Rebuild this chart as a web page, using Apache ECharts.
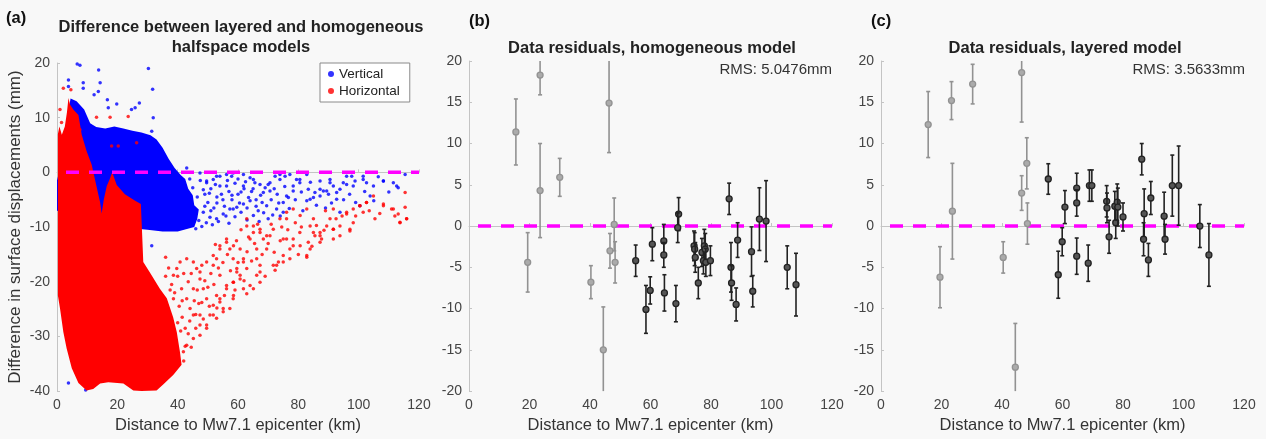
<!DOCTYPE html>
<html>
<head>
<meta charset="utf-8">
<title>Layered vs homogeneous halfspace residuals</title>
<style>
  html, body { margin: 0; padding: 0; background: #f8f8f8; }
  #main { width: 1266px; height: 439px; }
</style>
</head>
<body>
<div id="main"></div>
<script src="https://cdn.jsdelivr.net/npm/echarts@6/dist/echarts.min.js"></script>
<script>
// ---- panel (a): dense cores of the two point clouds, read as outlines [km, mm]
var vertBand = [[0, -1.5], [1.5, 2], [3, 9], [4.5, 13.5], [6.5, 13], [9, 11.5], [11, 9], [13, 8.3], [16, 8],
  [19, 8.4], [22, 8], [25, 7.6], [28, 7.3], [31, 6.8], [33, 6], [35, 4.5], [37, 2.5], [39, 0.8], [41, -0.5],
  [42.5, -1.2], [43.5, -3], [45, -4.2], [45.5, -6], [47, -6.8], [46.5, -8.5], [45.5, -10], [40, -10.8],
  [35, -10.8], [30, -10.5], [25, -10.2], [20, -10], [16, -9.5], [14.5, -8.5], [10, -8], [5, -7.5], [0, -7]];

var horizBand = [[0.3, 7], [0.8, 8.4], [1.6, 6.9], [2.6, 8.4], [3.3, 11], [3.8, 13.6], [4.3, 12.4], [5.4, 11.5],
  [7.1, 10.5], [8.2, 6.9], [9.8, 3.9], [11.5, 1.4], [13.2, -2.8], [14.3, -5.5], [14.8, -7.5], [15.5, -5],
  [16.5, -2.5], [17.5, -1.2], [18.3, 0], [19.8, -2.3], [22.5, -4], [25.9, -5.2], [27.8, -5.8], [28.2, -11],
  [28.6, -16.4], [31, -18.5], [34.1, -21.3], [36.4, -23], [38.5, -26.5], [39.7, -29.2], [40.8, -33],
  [41.3, -35.2], [38.6, -37], [35.2, -38.8], [33, -39.9], [28, -40], [25.3, -39.9], [22, -38.6], [17, -38.4],
  [14.3, -38.6], [12, -39.6], [9.8, -39.9], [7.1, -38.5], [4.9, -35.8], [3.2, -32.2], [2.1, -29.2], [1, -24.9],
  [0.3, -22.5]];

// scattered points outside the cores
var vertPts = [[6.7, 19.8], [7.6, 19.6], [3.8, 16.9], [13.8, 18.7], [30.3, 19.0], [31.7, 15.2], [14.3, 16.4],
  [13.7, 14.8], [12.3, 14.2], [8.7, 16.4], [8.7, 15.4], [16.7, 13.3], [17.0, 11.8], [19.8, 12.5], [24.7, 11.5],
  [27.3, 12.7], [25.9, 11.8], [31.9, 10.0], [6.7, 12.1], [31.4, 7.5], [3.8, 15.7],
  [31.4, -13.4], [23.5, -18.6], [3.8, -38.5], [4.6, -31], [9.5, -39.8],
  [43.0, 0.8], [47.4, -0.1], [49.6, -1.6], [52.9, -0.7], [56.2, -2.5], [58.4, -0.1], [61.8, -2.5], [65.1, -1.3],
  [68.4, -3.7], [70.6, -1.9], [73.9, -0.4], [76.1, -4.3], [78.3, -2.5], [80.5, -1.3], [83.9, -4.9], [87.2, -3.1],
  [90.5, -1.9], [92.7, -4.9], [96.0, -0.7], [98.2, -2.5], [101.5, -1.3], [103.8, -4.3], [108.2, -1.6],
  [112.6, -2.5], [115.4, -0.4], [93.8, -7.3], [100.4, -6.1], [75.0, -7.3], [58.4, -6.7], [65.1, -7.9],
  [49.6, -1.9], [51.8, -1.3], [54.0, -0.7], [56.2, -0.4], [57.9, -0.7], [61.8, -0.4], [64.0, -1.0], [65.6, -1.9],
  [67.3, -2.2], [69.0, -2.8], [70.6, -3.4], [72.3, -0.7], [73.9, -1.3], [75.6, -0.7], [77.2, -0.4], [79.4, -1.3],
  [80.5, -1.9], [82.8, -0.4], [83.3, -3.1], [85.5, -3.7], [87.2, -1.6], [88.3, -3.4], [90.0, -4.0], [90.5, -1.3],
  [91.6, -2.5], [92.7, -3.7], [93.8, -3.1], [94.9, -1.9], [96.0, -2.2], [97.7, -0.7], [98.8, -1.6], [101.5, -0.7],
  [102.6, -1.9], [104.9, -2.5], [108.2, -1.6], [111.5, -1.9], [113.1, -2.8],
  [48.5, -7.3], [50.7, -8.2], [52.9, -8.5], [55.1, -7.6], [57.3, -6.7], [59.6, -6.4], [61.8, -5.8], [64.0, -5.2],
  [66.7, -7.0], [69.5, -6.1], [72.8, -6.7], [75.0, -5.5], [76.7, -4.6], [78.3, -3.4], [82.8, -5.2], [85.0, -4.6],
  [87.2, -4.3], [89.4, -3.4], [49, -4], [50, -5.5], [51, -3], [52, -6.5], [53, -4.5], [54, -2.5], [55, -5],
  [56, -8], [57, -3.5], [58, -5], [59, -2], [60, -4], [61, -7.3], [62, -3], [63, -6.5], [64.5, -3.5], [66, -5],
  [68, -5.5], [71, -5], [73, -4], [74, -8], [70, -8.5], [67, -9],
  [44.5, -9.5], [45.5, -7.2], [46, -10.3], [47, -8.8], [48, -9.9], [49, -6.2], [49.5, -9.2], [50.5, -3.8],
  [51, -7], [51.5, -9.6], [52.5, -2.2], [53, -5.6], [53.5, -9], [54.5, -4], [55.5, -6.2], [56.5, -1.5],
  [57, -9.3], [58, -4.2], [59, -8.1], [60, -1.2], [60.5, -5.6], [61, -3.6], [62.5, -1.7], [63, -8.7],
  [63.5, -4.6], [65, -3], [66, -6.2], [67.5, -4.2], [68.5, -7.4], [70, -2.2], [71.5, -7.8], [72, -3],
  [73.5, -5.6], [75.5, -2.6], [77, -6.6], [79, -5], [81, -3.6], [81.5, -7], [84, -1.8], [86, -6], [89, -6.5],
  [91, -5.6], [95, -5], [97, -4], [99, -5.5], [102, -3.5], [105, -5.2], [106.5, -0.8], [110, -3.6],
  [42, -9.8], [43.5, -5], [41.5, -8.2], [44, -1.2], [45, -2.8], [46.5, -4.5], [47.5, -1.5], [48.5, -3.2]];

var horizPts = [[2.1, 15.4], [4.6, 15.1], [1.5, 9.1], [13.1, 10.1], [17.6, 10.1], [23.6, 10.2], [18.1, 4.8],
  [20.3, 4.8], [26.4, 5.4], [7.6, 7.8], [1.0, 11.5],
  [113.1, -7.6], [113.7, -9.2], [115.9, -8.5], [115.4, -6.4], [108.2, -5.8], [110.9, -6.7], [105.4, -8.5],
  [101.5, -7.3], [100.4, -6.1], [102.6, -5.5], [97.1, -10.7], [98.2, -9.2], [96.0, -7.6], [93.8, -11.6],
  [91.6, -10.4], [90.5, -8.5], [87.7, -12.2], [87.2, -11.0], [85.5, -11.6], [83.3, -12.8], [82.8, -15.5],
  [80.5, -11.0], [78.3, -12.2], [77.2, -14.0], [75.0, -15.2], [73.4, -16.4], [72.3, -17.9], [71.7, -17.0],
  [69.5, -14.0], [68.4, -12.2], [67.3, -11.0], [65.1, -9.8], [62.9, -8.5], [64.0, -12.2], [66.2, -14.0],
  [67.3, -17.0], [66.2, -18.8], [65.1, -21.3], [62.9, -22.2], [60.7, -19.5], [59.6, -17.6], [58.4, -15.8],
  [57.3, -14.0], [56.2, -12.8], [54.0, -14.0], [52.9, -15.8], [51.8, -17.0], [54.0, -18.8], [56.2, -20.7],
  [58.4, -23.1], [57.3, -24.9], [55.1, -25.5], [52.9, -26.7], [51.8, -24.3], [49.6, -23.1], [48.5, -21.3],
  [47.4, -19.5], [46.3, -17.6], [45.2, -16.4], [43.0, -15.8], [40.8, -16.4], [39.7, -17.6], [38.6, -18.8],
  [47.4, -27.9], [49.6, -28.5], [45.2, -30.4], [43.0, -31.6], [41.9, -32.8], [47.4, -26.1], [44.1, -24.9],
  [43.0, -23.1], [41.3, -21.3], [45.2, -21.3], [38.6, -23.1], [45.2, -26.1], [50.7, -26.1], [54.0, -23.1],
  [58.4, -20.1], [61.8, -15.8], [75.0, -12.2], [70.6, -11.6], [76.1, -8.5], [85.0, -8.5], [91.6, -6.7],
  [83.9, -9.8], [47.4, -18.2], [49.6, -16.4], [51.8, -15.2], [54.0, -13.4], [56.2, -12.2], [58.5, -13.4],
  [60.7, -14.0], [62.9, -9.8], [65.1, -11.0], [67.3, -10.4], [69.5, -11.6], [71.7, -10.4], [73.9, -8.5],
  [76.1, -7.3], [78.3, -6.7], [80.6, -7.9], [82.8, -6.7], [85.0, -11.0], [87.2, -11.6], [89.4, -9.8],
  [91.6, -10.4], [93.8, -9.8], [96.0, -7.3], [98.2, -6.7], [100.4, -6.1], [102.6, -5.5], [104.9, -4.3],
  [108.2, -6.1], [111.5, -6.7], [113.7, -9.1], [115.4, -3.7], [115.9, -8.5], [66.2, -15.8], [67.3, -18.2],
  [72.8, -17.0], [75.0, -16.4], [77.2, -15.8], [62.9, -17.6], [60.7, -18.8], [58.5, -20.1], [56.2, -21.3],
  [54.0, -23.7], [51.8, -26.1], [49.6, -27.9], [47.4, -29.8], [52.9, -22.5], [58.5, -22.5], [55.1, -24.9],
  [61.8, -21.3], [64.0, -20.7], [67.3, -20.1], [61.8, -16.4], [59.6, -18.2], [82.8, -15.2], [83.9, -14.0],
  [87.2, -12.8], [80.6, -13.4], [76.1, -12.2], [78.3, -13.4], [91.6, -12.2], [97.1, -10.4],
  [36, -15.5], [37, -17.5], [38, -20.5], [39, -22], [40, -19], [40.5, -24.5], [41.5, -26.5], [42, -18.5],
  [42.5, -28.5], [43.5, -20], [44, -27.2], [44.5, -18.5], [45.5, -23.5], [46, -28.5], [46.5, -21.5], [47, -24],
  [48, -23.8], [48, -17], [48.5, -26.8], [49, -19.8], [50, -21], [50.5, -24.5], [51, -18.5], [52, -20.5],
  [52.5, -13.2], [53, -24.8], [53.5, -17.5], [55, -16.5], [55.5, -22.5], [56.5, -15], [57.5, -18], [59, -21.5],
  [59.5, -12.5], [60, -16.5], [61, -10.5], [62, -19.8], [63, -14.5], [63.5, -11.8], [64.5, -16.2], [65.5, -13],
  [66.5, -9.5], [68, -15], [69, -19], [70, -13], [71, -9.5], [72, -14.6], [74, -12.5], [74.5, -10],
  [76.5, -10.5], [79, -9.2], [80, -15], [81, -10], [84.5, -13.5], [86, -9.7], [88.5, -10.6], [89, -7],
  [92.5, -8.5], [94.5, -8], [99, -8], [103.5, -7], [107, -7.5], [112, -8], [35, -30], [36.5, -33],
  [37.5, -27.5], [39, -30], [38, -34.5], [34, -36], [42.5, -31.8], [41, -29],
  [42, -34.5], [43.5, -29.5], [44.5, -32], [46, -26], [41.5, -23.5], [40, -27.5], [37.5, -21.5], [36, -19]];

// ---- panels (b) and (c): station residuals [distance km, residual mm, error mm]
// grey = stations near the rupture, black = the rest
var homNear = [[15.5, 11.4, 4.0], [23.5, 18.3, 2.4], [23.5, 4.3, 5.7], [30.0, 5.9, 2.3], [19.4, -4.4, 3.6],
  [46.3, 14.9, 6.0], [40.3, -6.8, 2.0], [44.4, -15.0, 5.2], [46.6, -3.0, 2.1], [48.0, 0.2, 3.2], [48.3, -4.4, 2.5]];
var homFar = [[55.1, -4.2, 1.9], [58.5, -10.1, 2.9], [59.9, -7.8, 1.65], [60.6, -2.2, 2.0], [64.4, -1.8, 2.0],
  [64.4, -3.5, 1.5], [64.6, -8.1, 2.2], [68.4, -9.4, 2.2], [69.3, 1.45, 2.0], [69.0, -0.2, 1.8], [74.4, -2.4, 1.8],
  [74.6, -2.8, 2.0], [74.8, -3.8, 1.8], [75.8, -6.9, 1.9], [77.0, -3.2, 1.7], [77.5, -4.2, 1.6], [77.8, -2.4, 2.0],
  [78.1, -2.8, 1.9], [78.3, -4.4, 1.7], [79.8, -4.2, 1.8], [86.0, 3.3, 1.9], [86.6, -5.0, 3.0], [86.8, -6.9, 2.1],
  [88.3, -9.5, 2.0], [88.8, -1.7, 2.1], [93.4, -3.1, 3.0], [93.8, -7.9, 1.9], [96.0, 0.84, 3.8], [98.2, 0.6, 4.9],
  [105.2, -5.0, 2.6], [108.1, -7.1, 3.8]];

var layNear = [[15.6, 12.3, 4.0], [23.3, 15.2, 2.3], [30.3, 17.2, 2.4], [46.5, 18.6, 6.0], [23.6, 1.8, 5.8],
  [19.5, -6.2, 3.7], [40.4, -3.8, 1.9], [44.4, -17.1, 5.3], [46.5, 4.0, 2.1], [48.2, 7.6, 3.1], [48.4, 0.3, 2.5]];
var layFar = [[55.3, 5.7, 1.85], [58.6, -5.9, 2.85], [59.9, -1.9, 1.7], [60.8, 2.3, 2.0], [64.7, 4.6, 1.8],
  [64.7, 2.8, 1.6], [64.7, -3.65, 2.2], [68.5, -4.5, 2.2], [68.9, 4.9, 1.9], [69.7, 4.9, 1.9], [74.6, 3.0, 1.9],
  [74.7, 2.2, 1.8], [75.4, -1.3, 2.0], [77.3, 2.4, 1.8], [77.6, 0.4, 1.9], [78.1, 2.9, 2.2], [78.3, 2.3, 2.3],
  [80.0, 1.1, 1.7], [86.2, 8.1, 1.9], [87.0, 1.5, 3.0], [86.8, -1.6, 2.0], [88.4, -4.1, 2.0], [89.2, 3.4, 2.0],
  [93.6, 1.2, 2.9], [93.9, -1.6, 1.8], [96.3, 4.9, 3.7], [98.4, 4.9, 4.8], [105.4, 0.0, 2.6], [108.4, -3.5, 3.8]];

var rmsLabels = ['RMS: 5.0476mm', 'RMS: 3.5633mm'];
var xMin = 0, xMax = 120;
var zeroLine = [[xMin, 0], [xMax, 0]];
var resLimits = [-20, 20];

var myChart = echarts.init(document.getElementById('main'));
var font = '"Liberation Sans", Arial, sans-serif';

function xAx(idx) {
  return {
    gridIndex: idx, type: 'value', min: xMin, max: xMax, interval: 20,
    name: 'Distance to Mw7.1 epicenter (km)', nameLocation: 'middle', nameGap: 25,
    nameTextStyle: { fontSize: 16.5, color: '#333', fontFamily: font },
    axisLine: { lineStyle: { color: '#c4c4c4' } },
    axisTick: { inside: true, length: 3, lineStyle: { color: '#c4c4c4' } },
    axisLabel: { fontSize: 14, color: '#444', margin: 7, fontFamily: font },
    splitLine: { show: false }
  };
}
function yAx(idx, lo, hi, step) {
  return {
    gridIndex: idx, type: 'value', min: lo, max: hi, interval: step,
    axisLine: { show: true, lineStyle: { color: '#c4c4c4' } },
    axisTick: { show: true, inside: true, length: 3, lineStyle: { color: '#c4c4c4' } },
    axisLabel: { fontSize: 14, color: '#444', margin: 7, fontFamily: font },
    splitLine: { show: false }
  };
}

// filled outline of a point cloud core
function bandItem(pts, color) {
  return function (params, api) {
    var p = pts.map(function (q) { return api.coord(q); });
    return { type: 'polygon', shape: { points: p }, style: { fill: color } };
  };
}

// error bar + marker, clipped at the axis limits
function errItem(color, fill) {
  return function (params, api) {
    var x = api.value(0), y = api.value(1), e = api.value(2);
    var hi = Math.min(y + e, resLimits[1]), lo = Math.max(y - e, resLimits[0]);
    var t = api.coord([x, hi]), b = api.coord([x, lo]), c = api.coord([x, y]);
    var st = { stroke: color, lineWidth: 1.6 };
    var kids = [{ type: 'line', shape: { x1: t[0], y1: t[1], x2: b[0], y2: b[1] }, style: st }];
    if (y + e <= resLimits[1]) kids.push({ type: 'line', shape: { x1: t[0] - 2, y1: t[1], x2: t[0] + 2, y2: t[1] }, style: st });
    if (y - e >= resLimits[0]) kids.push({ type: 'line', shape: { x1: b[0] - 2, y1: b[1], x2: b[0] + 2, y2: b[1] }, style: st });
    if (y <= resLimits[1] && y >= resLimits[0]) {
      kids.push({ type: 'circle', shape: { cx: c[0], cy: c[1], r: 3 }, style: { fill: fill, stroke: color, lineWidth: 1.3 } });
    }
    return { type: 'group', children: kids };
  };
}

function zeroSeries(idx) {
  return {
    type: 'line', xAxisIndex: idx, yAxisIndex: idx, data: zeroLine, showSymbol: false, silent: true, z: 4,
    lineStyle: { color: '#ff00ff', width: 3.5, type: [13, 10], dashOffset: 14 }
  };
}
function errSeries(idx, data, color, fill) {
  return {
    type: 'custom', xAxisIndex: idx, yAxisIndex: idx, data: data, z: 5, silent: true,
    renderItem: errItem(color, fill)
  };
}

var titleStyle = { fontSize: 16.5, fontWeight: 'bold', color: '#222', fontFamily: font };
var tagStyle = { fontSize: 16.5, fontWeight: 'bold', color: '#111', fontFamily: font };
var rmsStyle = { fontSize: 15, fontWeight: 'normal', color: '#333', fontFamily: font };

var option = {
  backgroundColor: '#f8f8f8',
  animation: false,
  title: [
    { text: '(a)', left: 1, top: 5, textStyle: tagStyle },
    { text: 'Difference between layered and homogeneous\nhalfspace models', left: 236, top: 12, textAlign: 'center',
      textStyle: Object.assign({ lineHeight: 20 }, titleStyle) },
    { text: '(b)', left: 464, top: 8, textStyle: tagStyle },
    { text: 'Data residuals, homogeneous model', left: 647, top: 35, textAlign: 'center', textStyle: titleStyle },
    { text: rmsLabels[0], left: 827, top: 57, textAlign: 'right', textStyle: rmsStyle },
    { text: '(c)', left: 866, top: 8, textStyle: tagStyle },
    { text: 'Data residuals, layered model', left: 1060, top: 35, textAlign: 'center', textStyle: titleStyle },
    { text: rmsLabels[1], left: 1240, top: 57, textAlign: 'right', textStyle: rmsStyle }
  ],
  legend: {
    data: ['Vertical', 'Horizontal'], orient: 'vertical', left: 320, top: 63,
    icon: 'circle', itemWidth: 6, itemHeight: 6, itemGap: 3, selectedMode: false,
    borderColor: '#8a8a8a', borderWidth: 1, backgroundColor: '#fff', padding: [4, 10, 4, 8],
    textStyle: { fontSize: 13.5, color: '#222', fontFamily: font }
  },
  grid: [
    { left: 57, top: 63, width: 362, height: 330 },
    { left: 469, top: 61, width: 363, height: 332 },
    { left: 881, top: 61, width: 363, height: 332 }
  ],
  xAxis: [xAx(0), xAx(1), xAx(2)],
  yAxis: [
    Object.assign(yAx(0, -40, 20, 10), {
      name: 'Difference in surface displacements (mm)', nameLocation: 'middle', nameGap: 33,
      nameTextStyle: { fontSize: 17, color: '#333', fontFamily: font }
    }),
    yAx(1, -20, 20, 5),
    yAx(2, -20, 20, 5)
  ],
  series: [
    { name: 'Vertical core', type: 'custom', xAxisIndex: 0, yAxisIndex: 0, data: [[0, 0]], silent: true, z: 1,
      renderItem: bandItem(vertBand, '#0000ff') },
    { name: 'Vertical', type: 'scatter', xAxisIndex: 0, yAxisIndex: 0, data: vertPts, symbolSize: 3.5, z: 2,
      itemStyle: { color: '#0000ff' } },
    { name: 'Horizontal core', type: 'custom', xAxisIndex: 0, yAxisIndex: 0, data: [[0, 0]], silent: true, z: 3,
      renderItem: bandItem(horizBand, '#ff0000') },
    { name: 'Horizontal', type: 'scatter', xAxisIndex: 0, yAxisIndex: 0, data: horizPts, symbolSize: 3.5, z: 3,
      itemStyle: { color: '#ff0000' } },
    zeroSeries(0),
    Object.assign(zeroSeries(1), { z: 2 }),
    errSeries(1, homNear, '#929292', '#ababab'),
    errSeries(1, homFar, '#222222', '#555555'),
    Object.assign(zeroSeries(2), { z: 2 }),
    errSeries(2, layNear, '#929292', '#ababab'),
    errSeries(2, layFar, '#222222', '#555555')
  ]
};

myChart.setOption(option);
</script>
</body>
</html>
